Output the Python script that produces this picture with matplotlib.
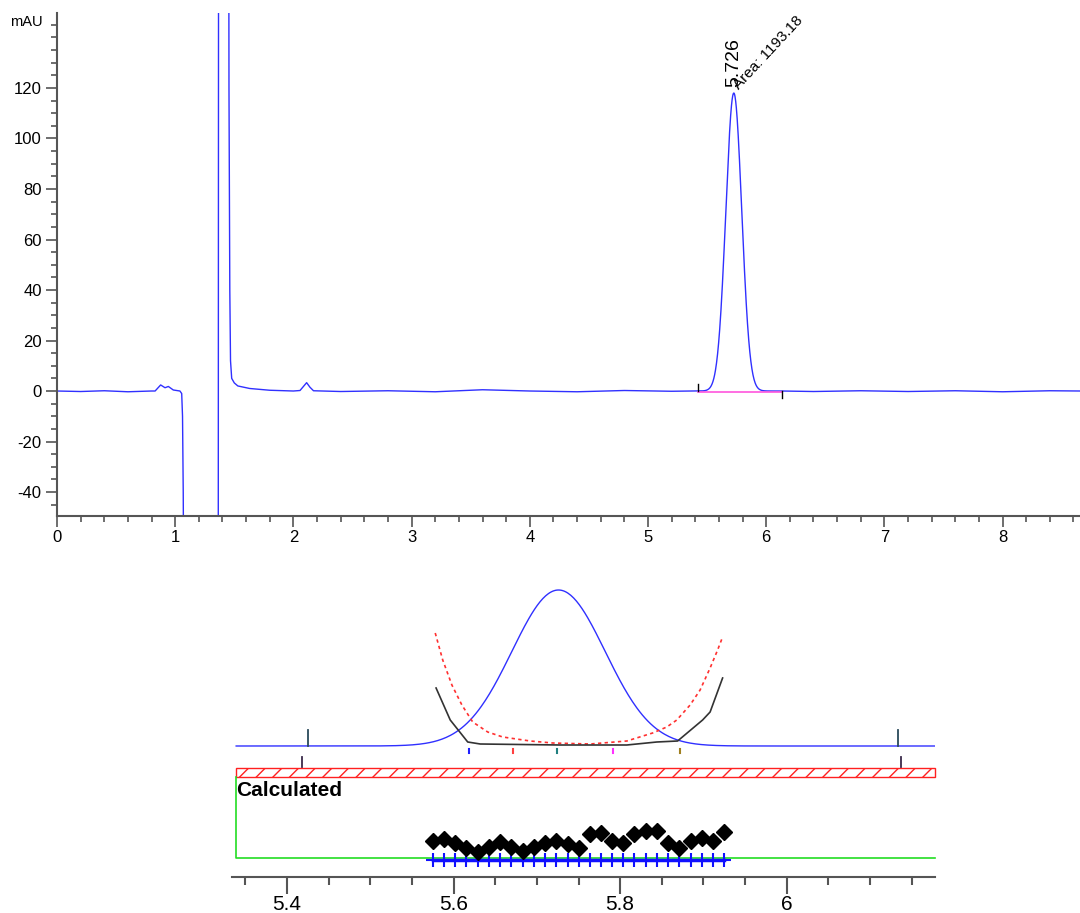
#plot chromatogram with peak fit detail
import matplotlib.pyplot as plt
import numpy as np
from matplotlib.patches import Rectangle
from matplotlib.ticker import MultipleLocator
import matplotlib.transforms as mtransforms

plt.rcParams['font.family'] = ['Liberation Sans', 'DejaVu Sans']
plt.rcParams['axes.unicode_minus'] = False

# main peak (peak table)
peak_rt = 5.726
peak_height = 118.0
peak_area = 1193.18   # mAU*s
peak_start = 5.423
peak_end = 6.134
peak_sigma = peak_area / (peak_height * np.sqrt(2 * np.pi) * 60)   # min
fit_sigma = 0.056     # width of the fitted curve shown in the lower panel

# trace, before and after the integrated peak (min, mAU)
trace_t_before = [0, 0.2, 0.4, 0.6, 0.8, 0.83, 0.877, 0.914, 0.942, 0.984, 1.04, 1.055,
                  1.062, 1.068, 1.074, 1.08, 1.362, 1.368, 1.45, 1.455, 1.462, 1.468,
                  1.478, 1.50, 1.53, 1.63, 1.80, 2.0, 2.056, 2.085, 2.112, 2.14, 2.17,
                  2.4, 2.8, 3.2, 3.6, 4.0, 4.4, 4.8, 5.2, 5.423]
trace_y_before = [0, -0.2, 0.1, -0.3, 0, 0, 2.4, 1.3, 1.8, 0.4, 0, -1,
                  -10, -40, -100, -300, -300, 300, 300, 120, 40, 12,
                  5, 3.2, 2, 1, 0.3, 0, 0.2, 1.8, 3.3, 1.5, 0.1,
                  -0.2, 0.1, -0.3, 0.5, 0, -0.3, 0.2, -0.1, 0]
trace_t_after = [6.134, 6.4, 6.8, 7.2, 7.6, 8.0, 8.4, 8.66]
trace_y_after = [0, -0.2, 0.1, -0.2, 0.1, -0.3, 0.1, 0]

# lower panel (fit detail), vertical values in panel units
fit_base = 131
fit_scale = 1.322
red_t = [5.578, 5.587, 5.598, 5.610, 5.623, 5.641, 5.659, 5.692, 5.719, 5.764,
         5.808, 5.839, 5.856, 5.868, 5.884, 5.896, 5.908, 5.917, 5.923]
red_y = [244, 217, 192, 172, 155, 145, 140, 136, 134, 133,
         136, 144, 150, 157, 172, 187, 209, 227, 240]
black_t = [5.579, 5.596, 5.617, 5.632, 5.728, 5.808, 5.844, 5.869, 5.899, 5.908, 5.923]
black_y = [189, 157, 135, 133, 132, 132, 135, 136, 157, 165, 199]
resid_t = [5.575, 5.588, 5.602, 5.615, 5.629, 5.642, 5.656, 5.669, 5.683, 5.696,
           5.710, 5.723, 5.737, 5.750, 5.764, 5.777, 5.790, 5.804, 5.817, 5.831,
           5.844, 5.858, 5.871, 5.885, 5.898, 5.911, 5.925]
resid_y = [36.4, 38.4, 34, 28.8, 25.3, 30.5, 35, 30.5, 26, 30.5,
           34, 35.7, 33, 28.8, 42.6, 44.3, 35.7, 34, 42.6, 46,
           46, 34, 28.8, 36.4, 39, 35.7, 45.3]
mark_t = [5.618, 5.671, 5.724, 5.791, 5.872]
mark_colors = ['#2020ff', '#ff4040', '#208080', '#ff30ff', '#a08020']
edge_up_t = [5.425, 6.133]
edge_down_t = [5.418, 6.137]

fig = plt.figure(figsize=(10.8, 9.13), dpi=100)

# ---- top chromatogram
ax = fig.add_axes([57 / 1080, 1 - 516 / 913, 1 - 57 / 1080, (516 - 13) / 913])
t_peak = np.linspace(peak_start, peak_end, 400)
y_peak = peak_height * np.exp(-0.5 * ((t_peak - peak_rt) / peak_sigma) ** 2)
t_all = np.concatenate([trace_t_before, t_peak, trace_t_after])
y_all = np.concatenate([trace_y_before, y_peak, trace_y_after])
ax.plot(t_all, y_all, color='#3030ff', lw=1)
ax.plot([peak_start, peak_end], [-0.3, -0.3], color='#ff55dd', lw=1.2)
ax.plot([peak_start] * 2, [0, 2.8], color='k', lw=1)
ax.plot([peak_end] * 2, [-2.6, 0], color='k', lw=1)
ax.text(peak_rt, 120.5, f'{peak_rt:.3f}', rotation=90, ha='center', va='bottom', fontsize=14)
ax.text(5.787, 118.4, f'Area: {peak_area:.2f}', rotation=47, rotation_mode='anchor',
        ha='left', va='bottom', fontsize=11)

ax.set_xlim(0, 8.655)
ax.set_ylim(-49.5, 149.7)
for s in ['top', 'right']:
    ax.spines[s].set_visible(False)
for s in ['left', 'bottom']:
    ax.spines[s].set_color('#555555')
    ax.spines[s].set_linewidth(1.5)
ax.set_yticks(np.arange(-40, 121, 20))
ax.yaxis.set_minor_locator(MultipleLocator(5))
ax.set_xticks(range(0, 9))
ax.xaxis.set_minor_locator(MultipleLocator(0.2))
ax.tick_params(which='major', length=8, width=1.2, color='#555555', labelsize=12, pad=3)
ax.tick_params(which='minor', length=4, width=1.2, color='#555555')
ax.tick_params(axis='x', pad=2)
trans = mtransforms.blended_transform_factory(ax.transAxes, ax.transData)
ax.text(-0.014, 146, 'mAU', transform=trans, ha='right', va='center', fontsize=10.5)

# ---- lower fit detail
ax2 = fig.add_axes([232 / 1080, 36 / 913, 703 / 1080, 292 / 913])
x0, x1 = 5.339, 6.178
t_fit = np.linspace(x0, x1, 500)
ax2.plot(t_fit, fit_base + fit_scale * peak_height * np.exp(-0.5 * ((t_fit - peak_rt) / fit_sigma) ** 2),
         color='#3030ff', lw=1)
ax2.plot(red_t, red_y, color='#ff3030', ls=(0, (2, 2)), lw=1.2)
ax2.plot(black_t, black_y, color='#333333', lw=1.2)
for t in edge_up_t:
    ax2.plot([t, t], [131, 147], color='#2a4a5a', lw=1.3)
for t in edge_down_t:
    ax2.plot([t, t], [110, 120], color='#3a2a4a', lw=1.3)
for t, c in zip(mark_t, mark_colors):
    ax2.plot([t, t], [124, 128], color=c, lw=1.5)

ax2.add_patch(Rectangle((x0, 100), x1 - x0, 9, facecolor='white', edgecolor='#ff2020',
                        hatch='//', lw=1, clip_on=False))
ax2.plot([x0, x0, x1], [100, 19, 19], color='#22dd22', lw=1.2, clip_on=False)
ax2.text(x0, 87, 'Calculated', fontweight='bold', fontsize=15, ha='left', va='center')
ax2.plot(resid_t, [17] * len(resid_t), color='#1010ff', lw=2.5, marker='+', ms=10, mew=1.5)
ax2.plot(resid_t, resid_y, 'D', color='black', ms=8)

ax2.set_xlim(5.334, 6.178)
ax2.set_ylim(0, 292)
for s in ['top', 'right', 'left']:
    ax2.spines[s].set_visible(False)
ax2.spines['bottom'].set_color('#555555')
ax2.spines['bottom'].set_linewidth(1.5)
ax2.set_yticks([])
ax2.set_xticks([5.4, 5.6, 5.8, 6.0])
ax2.set_xticklabels(['5.4', '5.6', '5.8', '6'])
ax2.xaxis.set_minor_locator(MultipleLocator(0.05))
ax2.tick_params(which='major', length=12, width=1.5, color='#555555', labelsize=15, pad=1)
ax2.tick_params(which='minor', length=6, width=1.5, color='#555555')

fig.savefig('out.png', dpi=100)
